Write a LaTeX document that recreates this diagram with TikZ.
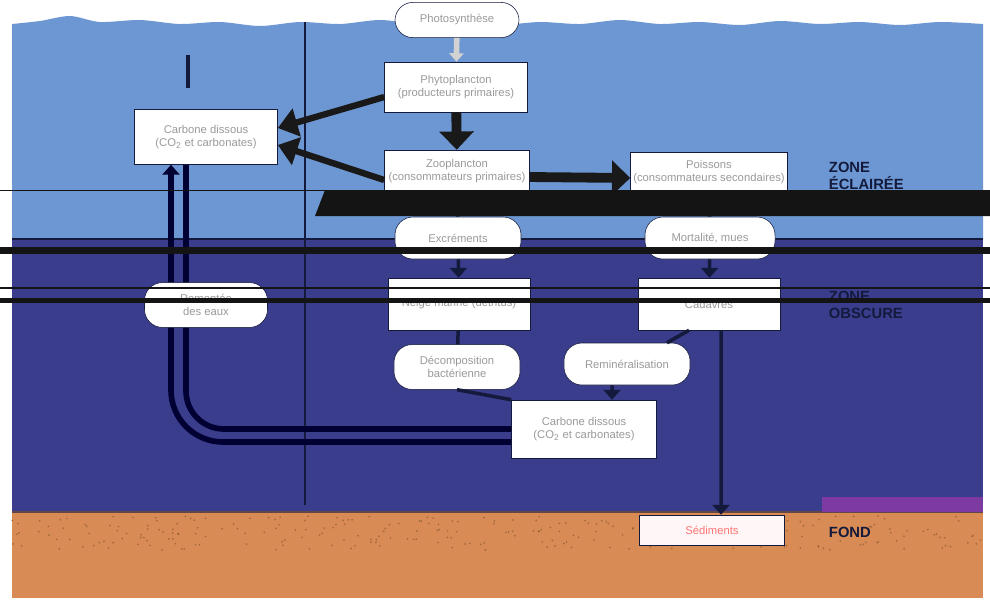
\documentclass[tikz,border=0pt]{standalone}
\usepackage{fontspec}
\setmainfont{Liberation Sans}
\usetikzlibrary{positioning,arrows.meta}

\definecolor{eauclaire}{HTML}{6D97D2}
\definecolor{eausombre}{HTML}{3A3C8C}
\definecolor{sable}{HTML}{D98B55}
\definecolor{marine}{HTML}{141A3C}
\definecolor{texte}{HTML}{9A9A9A}
\definecolor{violet}{HTML}{7D3AA0}

\begin{document}
\begin{tikzpicture}[x=0.025cm, y=-0.025cm,
  boite/.style={draw=marine, fill=white, rectangle, minimum width=3.55cm,
                minimum height=1.2cm, align=center, font=\footnotesize,
                text=texte, inner sep=2pt},
  bulle/.style={draw=marine, fill=white, rectangle, rounded corners=0.45cm,
                minimum width=3.15cm, minimum height=1.05cm, align=center,
                font=\footnotesize, text=texte, inner sep=2pt},
  zone/.style={anchor=west, align=left, text=marine,
               font=\bfseries\fontsize{10.5}{12}\selectfont},
  lien/.style={draw=marine, line width=2.5pt},
  fleche/.style={lien, -{Triangle[length=7pt,width=12pt]}},
  moyenne/.style={draw=black!90, line width=4.5pt,
                  -{Triangle[length=14pt,width=20pt]}},
  grosse/.style={draw=black!90, line width=7pt,
                 -{Triangle[length=13pt,width=24pt]}},
  tuyau/.style={draw=black!80!blue, line width=4pt},
  barre/.style={fill=black!92}]

  % fond de la scene
  \fill[white] (0,0) rectangle (990,601);
  \fill[eauclaire] (12,240) -- plot[smooth] coordinates {(12,24) (40,21) (70,16)
      (100,22) (140,20) (180,24) (220,22) (260,26) (300,22) (340,24) (380,20)
      (420,24) (460,22) (500,25) (540,22) (580,24) (620,20) (660,24) (700,22)
      (740,25) (780,21) (820,24) (860,22) (900,25) (940,22) (983,24)}
      -- (983,240) -- cycle;
  \fill[eausombre] (12,240) rectangle (983,512);
  \draw[marine, line width=1.5pt] (12,239) -- (983,239);
  \fill[sable] (12,512) rectangle (983,598);
  \draw[marine!60!sable, line width=1pt] (12,512) -- (983,512);
  \pgfmathsetseed{7}
  \foreach \i in {1,...,260}
    \fill[brown!50!black, opacity=.45] ({12+971*rnd},{516+34*rnd}) circle (0.7pt);
  \fill[violet] (822,497) rectangle (983,512);

  % reperes verticaux
  \draw[marine, line width=1.5pt] (305,22) -- (305,505);
  \draw[marine, line width=3pt] (188,55) -- (188,88);

  % zones
  \node[zone] (eclairee) at (824,176) {ZONE\\ÉCLAIRÉE};
  \node[zone] (obscure) at (824,305) {ZONE\\OBSCURE};
  \node[zone] (fond) at (824,532) {FOND};

  % zone eclairee
  \node (photo) [bulle, minimum width=3.1cm, minimum height=0.88cm] at (457,20)
        {Photosynthèse};
  \node (phyto) [boite, minimum width=3.575cm, minimum height=1.25cm] at (456,87)
        {Phytoplancton\\(producteurs primaires)};
  \node (carbone) [boite, minimum width=3.575cm, minimum height=1.375cm] at (206,137)
        {Carbone dissous\\(CO\textsubscript{2} et carbonates)};
  \node (zoo) [boite, minimum width=3.625cm, minimum height=1.05cm] at (457,171)
        {Zooplancton\\(consommateurs primaires)};
  \node (poissons) [boite, minimum width=3.55cm, minimum height=1cm] at (709,172)
        {Poissons\\(consommateurs secondaires)};

  % zone obscure
  \node (excr) [bulle] at (458,238) {Excréments};
  \node (cadav) [bulle, minimum width=3.25cm] at (710,238) {Mortalité, mues};
  \node (neige) [boite, minimum height=1.3cm] at (459,304) {Neige marine (détritus)};
  \node (cadavres) [boite, minimum height=1.3cm] at (709,304) {Cadavres};
  \node (decomp) [bulle, minimum height=1.12cm] at (457,367)
        {Décomposition\\bactérienne};
  \node (respi) [bulle, minimum height=1.05cm] at (627,364) {Reminéralisation};
  \node (carbfond) [boite, minimum width=3.625cm, minimum height=1.45cm] at (584,429)
        {Carbone dissous\\(CO\textsubscript{2} et carbonates)};
  \node (sediments) [boite, fill=white!88!pink, text=pink!60!red,
        minimum width=3.625cm, minimum height=0.75cm] at (712,530) {Sédiments};

  % liaisons
  \draw[draw=gray!35, line width=4pt, -{Triangle[length=6pt,width=10pt]}]
        (photo) -- (phyto);
  \draw[grosse] (phyto) -- (zoo);
  \draw[moyenne] ([yshift=-0.25cm]phyto.west) -- ([yshift=0.225cm]carbone.east);
  \draw[moyenne] ([yshift=-0.225cm]zoo.west) -- ([yshift=-0.2cm]carbone.east);
  \draw[grosse] ([yshift=-0.15cm]zoo.east) -- ([yshift=-0.15cm]poissons.west);
  \draw[lien] (zoo) -- (excr);
  \draw[fleche] (excr) -- (neige);
  \draw[lien] (poissons) -- (cadav);
  \draw[fleche] (cadav) -- (cadavres);
  \draw[lien] (neige) -- (decomp);
  \draw[lien] ([xshift=-0.5cm]cadavres.south) -- ([xshift=1cm]respi.north);
  \draw[lien] (decomp.south) -- (carbfond.north west);
  \draw[fleche] ([xshift=-0.375cm]respi.south) -- ([xshift=0.7cm]carbfond.north);
  \draw[fleche] ([xshift=0.3cm]cadavres.south) -- ([xshift=0.225cm]sediments.north);

  % remontee du carbone
  \draw[tuyau, rounded corners=1.3cm, -{Triangle[length=7pt,width=12pt]}]
        ([yshift=-0.325cm]carbfond.west) -| ([xshift=-0.875cm]carbone.south);
  \draw[tuyau, rounded corners=0.95cm]
        (carbfond.west) -| ([xshift=-0.5cm]carbone.south);
  \node (remontee) [bulle, minimum width=3.075cm, minimum height=1.12cm] at (206,305)
        {Remontée\\des eaux};

  % bandes noires
  \fill[barre] (325,190) -- (990,190) -- (990,216) -- (315,216) -- cycle;
  \fill[barre] (0,189.5) rectangle (990,191);
  \fill[barre] (0,247) rectangle (990,254);
  \fill[barre] (0,287) rectangle (990,288.5);
  \fill[barre] (0,298) rectangle (990,303);
\end{tikzpicture}
\end{document}
